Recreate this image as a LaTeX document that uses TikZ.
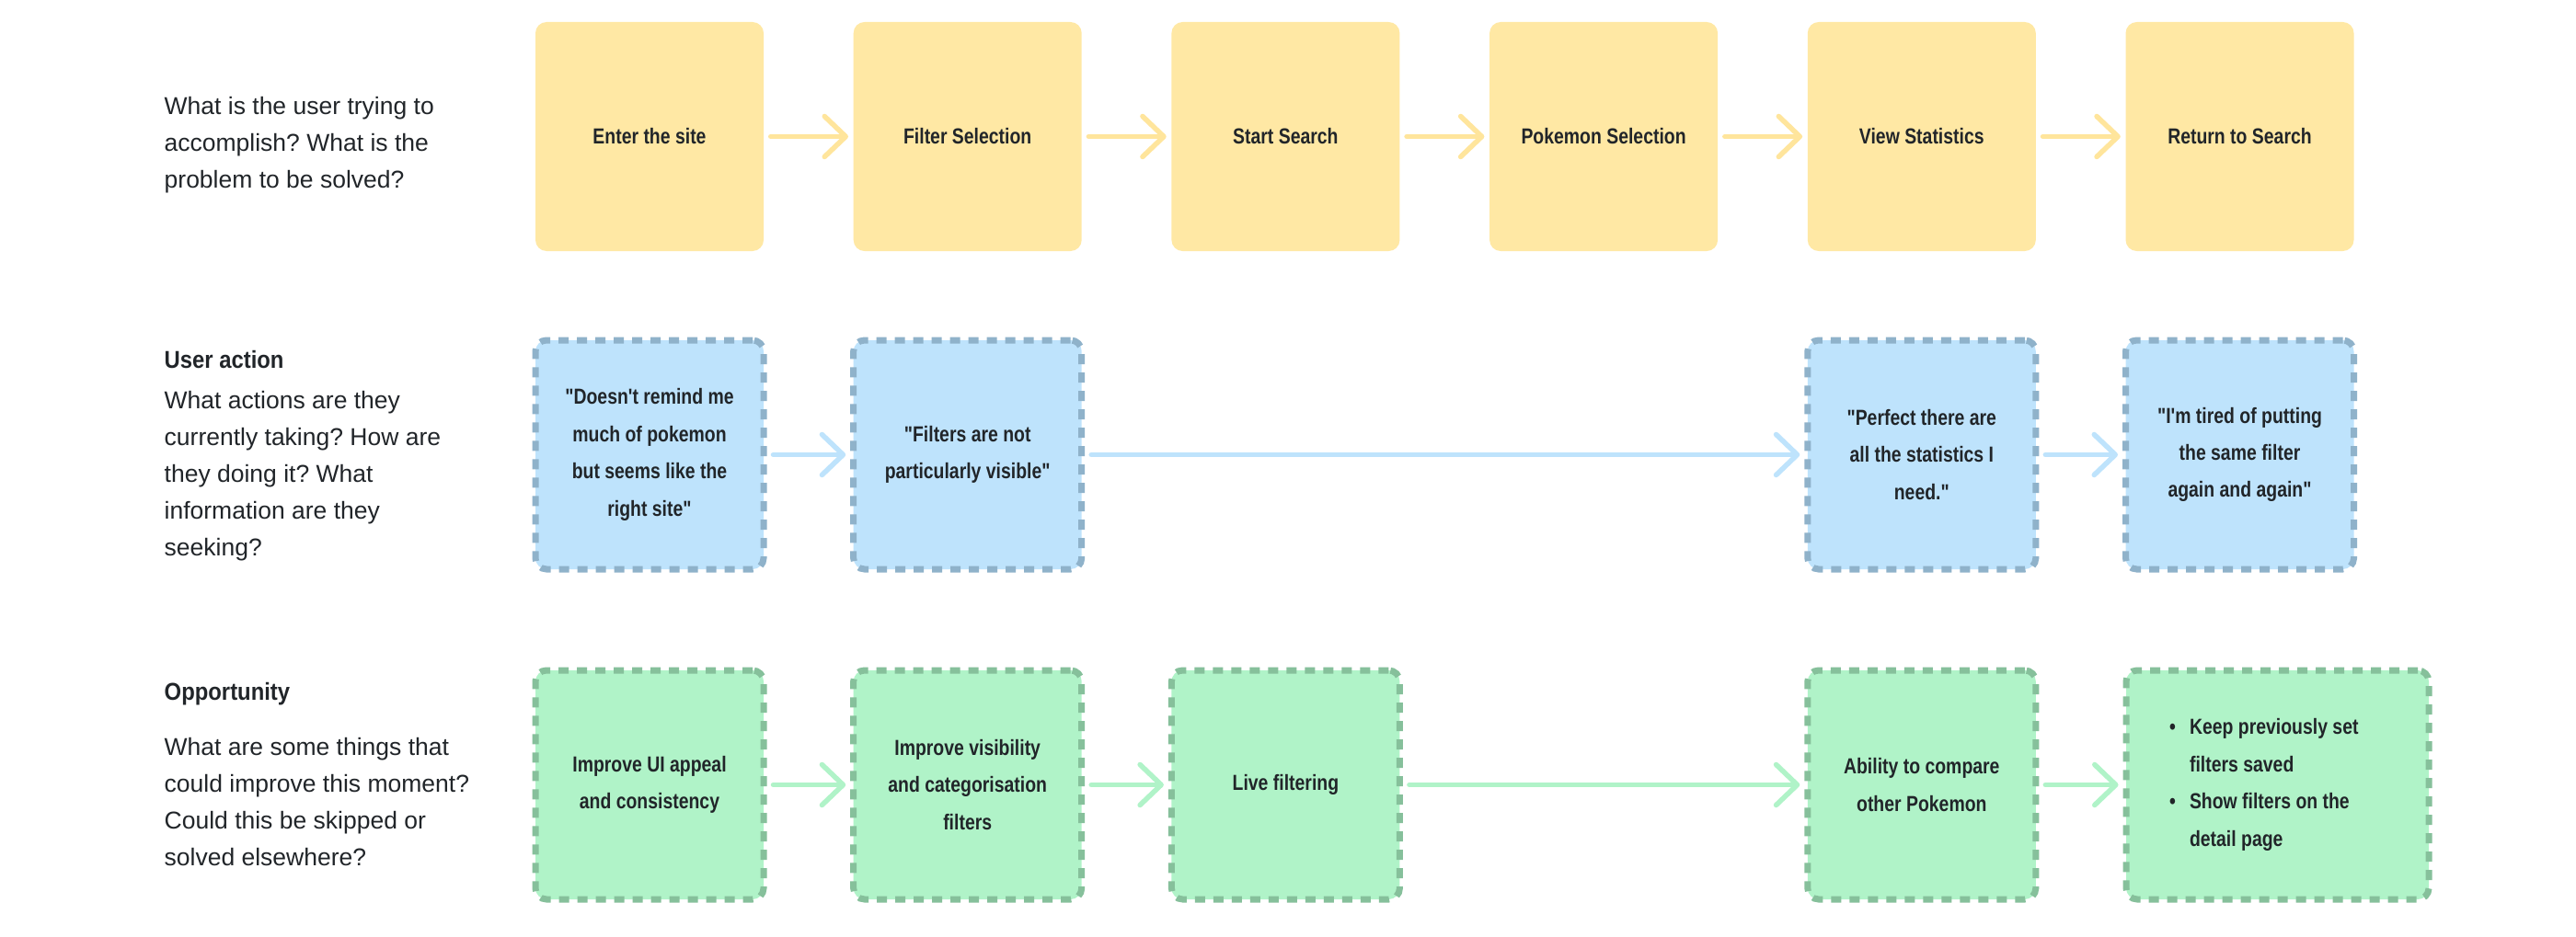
\documentclass[tikz,border=0pt]{standalone}
\usepackage{fontspec}
\setmainfont{Liberation Sans}
\newfontfamily\cardfont{Liberation Sans}[FakeStretch=0.82]
\newfontfamily\headfont{Liberation Sans}[FakeStretch=0.9]
\usetikzlibrary{arrows.meta,positioning}
\frenchspacing

\definecolor{journeyStage}{RGB}{255,232,164}
\definecolor{journeyStageArrow}{RGB}{255,229,156}
\definecolor{journeyQuote}{RGB}{190,227,252}
\definecolor{journeyQuoteEdge}{RGB}{143,178,202}
\definecolor{journeyIdea}{RGB}{176,243,200}
\definecolor{journeyIdeaEdge}{RGB}{134,192,155}
\definecolor{journeyInk}{RGB}{33,37,41}

\begin{document}
\begin{tikzpicture}[x=1cm,y=1cm,
      card/.style={minimum width=2.48cm, minimum height=2.49cm, inner sep=0pt,
        rounded corners=.12cm, align=center, text=journeyInk,
        font=\cardfont\bfseries\fontsize{6.74}{11.5}\selectfont},
      stage/.style={card, fill=journeyStage},
      quote/.style={card, fill=journeyQuote, draw=journeyQuoteEdge,
        line width=.07cm, dash pattern=on .11cm off .09cm},
      idea/.style={card, fill=journeyIdea, draw=journeyIdeaEdge,
        line width=.07cm, dash pattern=on .11cm off .09cm},
      prompt/.style={anchor=west, align=left, inner sep=0pt, text=journeyInk,
        font=\fontsize{7.54}{11.38}\selectfont},
      heading/.style={prompt, font=\headfont\bfseries\fontsize{7.54}{11.38}\selectfont},
      flow/.style={line width=.055cm, line cap=round, shorten <=.07cm, shorten >=.05cm,
        -{Straight Barb[length=.23cm, width=.44cm, round]}}]
      \useasboundingbox (0,0) rectangle (28,10.18);
      \fill[white] (0,0) rectangle (28,10.18);

      % row labels
      \node[prompt] (goal) at (1.78,8.60)
        {What is the user trying to\\accomplish? What is the\\problem to be solved?};
      \node[heading] (actionHead) at (1.78,6.27) {User action};
      \node[prompt] (actionText) at (1.78,5.005)
        {What actions are they\\currently taking? How are\\they doing it? What\\information are they\\seeking?};
      \node[heading] (chanceHead) at (1.78,2.63) {Opportunity};
      \node[prompt] (chanceText) at (1.78,1.46)
        {What are some things that\\could improve this moment?\\Could this be skipped or\\solved elsewhere?};

      % goals
      \foreach[count=\i] \t in {Enter the site,Filter Selection,Start Search,
          Pokemon Selection,View Statistics,Return to Search}{
        \node[stage] (stage\i) at ({7.06+3.457*(\i-1)},8.695) {\t};}
      \foreach \a/\b in {1/2,2/3,3/4,4/5,5/6}
        \draw[flow, journeyStageArrow] (stage\a) -- (stage\b);

      % user actions
      \node[quote] (quote1) at (7.06,5.235)
        {"Doesn't remind me\\much of pokemon\\but seems like the\\right site"};
      \node[quote] (quote2) at (10.517,5.235)
        {"Filters are not\\particularly visible"};
      \node[quote] (quote5) at (20.888,5.235)
        {"Perfect there are\\all the statistics I\\need."};
      \node[quote] (quote6) at (24.345,5.235)
        {"I'm tired of putting\\the same filter\\again and again"};
      \foreach \a/\b in {1/2,2/5,5/6}
        \draw[flow, journeyQuote] (quote\a) -- (quote\b);

      % opportunities
      \node[idea] (idea1) at (7.06,1.645) {Improve UI appeal\\and consistency};
      \node[idea] (idea2) at (10.517,1.645)
        {Improve visibility\\and categorisation\\filters};
      \node[idea] (idea3) at (13.974,1.645) {Live filtering};
      \node[idea] (idea5) at (20.888,1.645) {Ability to compare\\other Pokemon};
      \node[idea, minimum width=3.29cm, text width=2.35cm, align=flush left]
        (idea6) at (24.755,1.645)
        {\makebox[.22cm][l]{\textbullet}Keep previously set\\
         \makebox[.22cm]{}filters saved\\
         \makebox[.22cm][l]{\textbullet}Show filters on the\\
         \makebox[.22cm]{}detail page};
      \foreach \a/\b in {1/2,2/3,3/5,5/6}
        \draw[flow, journeyIdea] (idea\a) -- (idea\b);
    \end{tikzpicture}
\end{document}
